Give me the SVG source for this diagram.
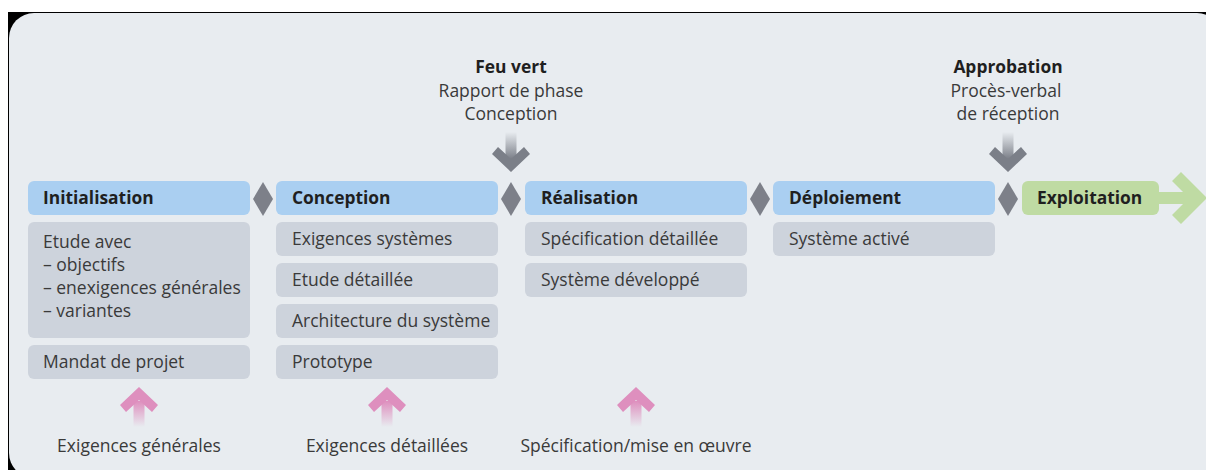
<svg xmlns="http://www.w3.org/2000/svg" width="1206" height="470" viewBox="0 0 1206 470">
<defs>
<style>
text{font-family:"Open Sans","Noto Sans","DejaVu Sans",sans-serif;}
.hd{fill:#aacff1;}
.bd{fill:#cdd3dc;}
.ms{fill:#7d8089;}
.ht{font-size:17.4px;font-weight:bold;fill:#1f1f1f;}
.bt{font-size:17.5px;fill:#3a3a3a;}
.lt{font-size:17.5px;fill:#3a3a3a;text-anchor:middle;}
.lb{font-size:17.4px;font-weight:bold;fill:#1f1f1f;text-anchor:middle;}
.pk{fill:#de8fbe;}
.gy{fill:#7b7f88;}
</style>
<linearGradient id="gPink" x1="0" y1="0" x2="0" y2="1">
<stop offset="0" stop-color="#de8fbe" stop-opacity="1"/>
<stop offset="1" stop-color="#de8fbe" stop-opacity="0"/>
</linearGradient>
<linearGradient id="gGrey" x1="0" y1="0" x2="0" y2="1">
<stop offset="0" stop-color="#7b7f88" stop-opacity="0"/>
<stop offset="1" stop-color="#7b7f88" stop-opacity="1"/>
</linearGradient>
<symbol id="upArrow" overflow="visible">
<rect x="-5.5" y="14" width="11" height="26" fill="url(#gPink)"/>
<polygon class="pk" points="0,0 19,18 13,25 0,13 -13,25 -19,18"/>
</symbol>
<symbol id="downArrow" overflow="visible">
<rect x="-5.5" y="-40" width="11" height="27" fill="url(#gGrey)"/>
<polygon class="gy" points="0,0 19,-18 13,-25 0,-13 -13,-25 -19,-18"/>
</symbol>
</defs>
<rect x="0" y="0" width="1206" height="470" fill="#ffffff"/>
<rect x="8" y="12" width="1198" height="458" fill="#000000"/>
<rect x="9" y="13" width="1213" height="465" rx="25" ry="25" fill="#e8ecf0"/>

<g id="gate-feu-vert">
<text class="lb" x="511" y="73">Feu vert</text>
<text class="lt" x="511" y="97">Rapport de phase</text>
<text class="lt" x="511" y="120">Conception</text>
</g>
<g id="gate-approbation">
<text class="lb" x="1008" y="73">Approbation</text>
<text class="lt" x="1006" y="97">Procès-verbal</text>
<text class="lt" x="1008" y="120">de réception</text>
</g>

<g id="initialisation">
<rect class="hd" x="28" y="181" width="222" height="34" rx="6"/>
<text class="ht" x="43" y="204">Initialisation</text>
<rect class="bd" x="28" y="222" width="222" height="116" rx="6"/>
<text class="bt" x="43" y="248">Etude avec</text>
<text class="bt" x="43" y="271">– objectifs</text>
<text class="bt" x="43" y="294">– enexigences générales</text>
<text class="bt" x="43" y="317">– variantes</text>
<rect class="bd" x="28" y="345" width="222" height="34" rx="6"/>
<text class="bt" x="43" y="368">Mandat de projet</text>
</g>

<g id="conception">
<rect class="hd" x="276" y="181" width="222" height="34" rx="6"/>
<text class="ht" x="292" y="204">Conception</text>
<rect class="bd" x="276" y="222" width="222" height="34" rx="6"/>
<text class="bt" x="292" y="245">Exigences systèmes</text>
<rect class="bd" x="276" y="263" width="222" height="34" rx="6"/>
<text class="bt" x="292" y="286">Etude détaillée</text>
<rect class="bd" x="276" y="304" width="222" height="34" rx="6"/>
<text class="bt" x="292" y="327">Architecture du système</text>
<rect class="bd" x="276" y="345" width="222" height="34" rx="6"/>
<text class="bt" x="292" y="368">Prototype</text>
</g>

<g id="realisation">
<rect class="hd" x="525" y="181" width="222" height="34" rx="6"/>
<text class="ht" x="541" y="204">Réalisation</text>
<rect class="bd" x="525" y="222" width="222" height="34" rx="6"/>
<text class="bt" x="541" y="245">Spécification détaillée</text>
<rect class="bd" x="525" y="263" width="222" height="34" rx="6"/>
<text class="bt" x="541" y="286">Système développé</text>
</g>

<g id="deploiement">
<rect class="hd" x="773" y="181" width="222" height="34" rx="6"/>
<text class="ht" x="789" y="204">Déploiement</text>
<rect class="bd" x="773" y="222" width="222" height="34" rx="6"/>
<text class="bt" x="789" y="245">Système activé</text>
</g>

<g id="exploitation">
<rect x="1022" y="181" width="137" height="34" rx="6" fill="#bfdba3"/>
<text class="ht" x="1037" y="204">Exploitation</text>
<rect x="1158" y="192" width="34" height="12" fill="#bfdba3"/>
<polygon points="1172,181 1181,172 1207,198 1181,224 1172,215 1189,198" fill="#bfdba3"/>
</g>

<g id="milestones">
<polygon class="ms" points="263,182 273,199 263,216 253,199"/>
<polygon class="ms" points="511,182 521,199 511,216 501,199"/>
<polygon class="ms" points="760,182 770,199 760,216 750,199"/>
<polygon class="ms" points="1008,182 1018,199 1008,216 998,199"/>
</g>

<g id="connectors">
<use href="#downArrow" x="511" y="172"/>
<use href="#downArrow" x="1008" y="172"/>
<use href="#upArrow" x="139" y="387"/>
<use href="#upArrow" x="387" y="387"/>
<use href="#upArrow" x="636" y="387"/>
</g>

<g id="inputs">
<text class="lt" x="139" y="452">Exigences générales</text>
<text class="lt" x="387" y="452">Exigences détaillées</text>
<text class="lt" x="636" y="452">Spécification/mise en œuvre</text>
</g>
</svg>
